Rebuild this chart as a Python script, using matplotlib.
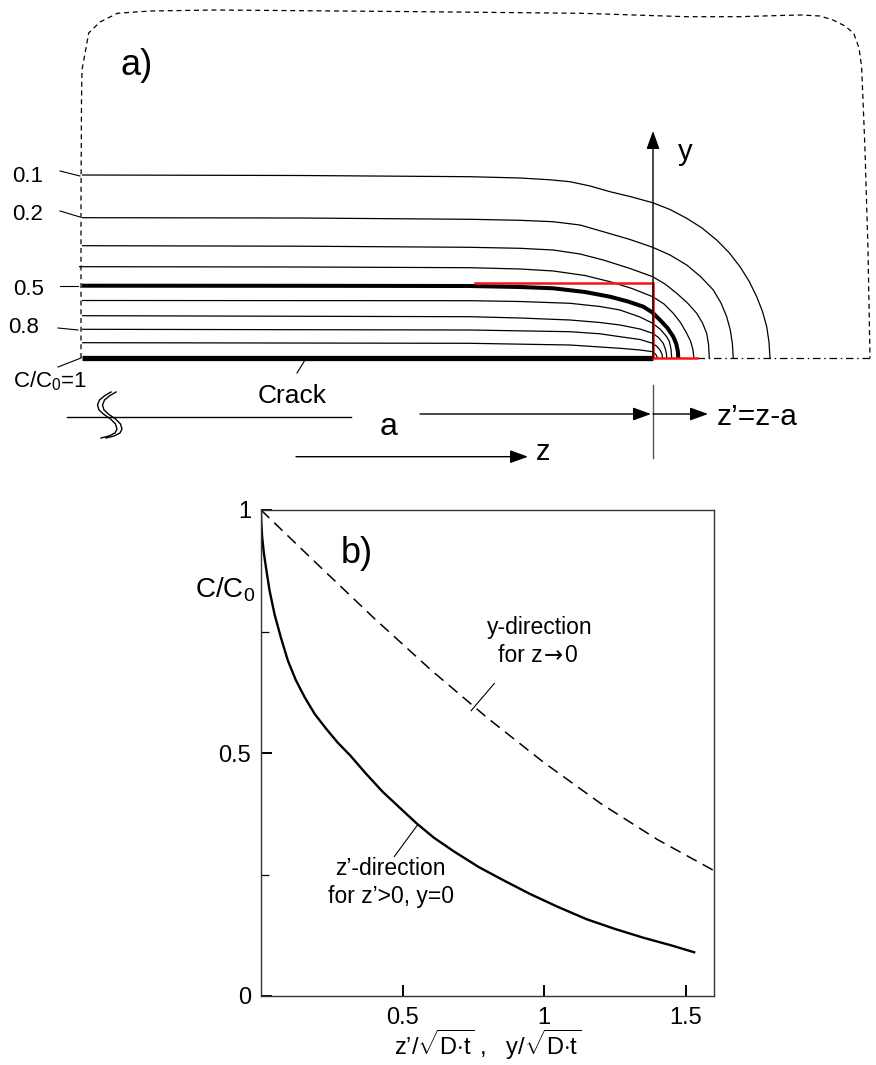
import matplotlib
matplotlib.use('Agg')
import matplotlib.pyplot as plt

plt.rcParams['font.family'] = ['Liberation Sans', 'DejaVu Sans']
plt.rcParams['mathtext.fontset'] = 'custom'
plt.rcParams['mathtext.rm'] = 'Liberation Sans'
plt.rcParams['mathtext.it'] = 'Liberation Sans'
plt.rcParams['mathtext.sf'] = 'Liberation Sans'
plt.rcParams['mathtext.bf'] = 'Liberation Sans:bold'

#%% Panel b) data, C/C0 versus normalised distance (read off the figure)
z_dir_x = [0.0, 0.001, 0.004, 0.010, 0.018, 0.030, 0.048, 0.070, 0.095, 0.123,
           0.154, 0.19, 0.23, 0.27, 0.315, 0.37, 0.43, 0.50, 0.55, 0.61,
           0.68, 0.77, 0.86, 0.95, 1.05, 1.15, 1.25, 1.35, 1.45, 1.53]
z_dir_c = [1.0, 0.975, 0.945, 0.912, 0.88, 0.835, 0.785, 0.738, 0.69, 0.65,
           0.615, 0.58, 0.55, 0.522, 0.495, 0.458, 0.42, 0.382, 0.355, 0.326,
           0.298, 0.265, 0.237, 0.21, 0.183, 0.158, 0.138, 0.12, 0.104, 0.09]
y_dir_x = [0.0, 0.2, 0.4, 0.6, 0.8, 1.0, 1.2, 1.4, 1.6]
y_dir_c = [1.0, 0.888, 0.777, 0.671, 0.572, 0.480, 0.396, 0.322, 0.258]

x_ticks = [0.5, 1, 1.5]
x_ticklabels = ['0.5', '1', '1.5']
y_ticks = [0, 0.5, 1]
y_ticklabels = ['0', '0.5', '1']

#%% Panel a) sketch, page pixel units (y downwards)
iso_levels = ['0.1', '0.2', '0.3', '0.4', '0.5', '0.6', '0.7', '0.8', '0.9']
iso_x = [
    [82, 300, 470, 520, 550, 570, 590, 610, 630, 652.7, 670, 686.7, 702, 716.7, 729, 740,
     749, 756.7, 762.5, 766.7, 769, 770],
    [82, 300, 470, 520, 553, 580, 603.3, 630, 652.7, 670, 686.7, 700.5, 713.3, 721,
     726.7, 730.3, 732.4, 733.3],
    [82, 300, 470, 520, 553.3, 580, 603.3, 630, 652.7, 665, 676.7, 687.5, 696.7, 702.5,
     706.7, 708.6, 709.3],
    [79, 300, 470, 520, 553.3, 585, 610, 632, 652.7, 664, 673.3, 680.8, 686.7, 690.5,
     692.8, 694],
    [82, 300, 470, 520, 553.3, 585, 610, 628, 643.3, 652.5, 660, 667.5, 673.3, 676.3,
     677.8, 678.3],
    [82, 470, 520, 570, 600, 620, 640, 652.7, 660.5, 666.7, 669.5, 671, 671.7],
    [82, 470, 520, 570, 600, 620, 640, 652.7, 658.5, 663.3, 665.5, 666.5, 666.7],
    [82, 470, 570, 600, 620, 640, 652.7, 657, 660, 661.9, 662.7],
    [82, 470, 570, 620, 640, 652.7, 655.7, 657.7],
]
iso_y = [
    [175, 175.5, 176.7, 178, 179.8, 181.7, 186, 191.7, 196.5, 202.7, 209.5, 218.3, 228, 240,
     252.5, 266.7, 281, 296.7, 311.5, 326.7, 342, 358.3],
    [217.7, 218, 219.3, 220.3, 221.7, 225, 231.7, 239.5, 247.3, 255, 265, 276.5, 290, 303,
     316.7, 330, 344, 358.3],
    [245.7, 246.2, 247.3, 248.3, 250, 254, 260, 268.5, 276.7, 284, 293.3, 303, 313.3, 323,
     333.3, 345, 358.3],
    [266.7, 267, 267.7, 269, 271, 275.5, 281.7, 288.5, 296.7, 304, 313.3, 323, 333.3, 341,
     349, 358.3],
    [285.7, 285.8, 286, 287, 288.3, 292, 296.7, 301.5, 306.7, 312.5, 320, 328, 336.7, 344,
     351, 358.3],
    [300.5, 300.7, 301.5, 303.3, 306.5, 310, 317, 323.3, 329.5, 336.7, 342, 349, 358.3],
    [315.7, 316.7, 318, 320, 322.5, 325, 329, 333.3, 337.5, 343.3, 349.5, 354, 358.3],
    [329.3, 330, 331.7, 333.8, 336.7, 339.5, 343.3, 346.5, 350, 354, 358.3],
    [342.7, 343.3, 345, 348.3, 350, 351.7, 354.2, 358.3],
]
crack_x = [82, 653]
crack_y = [358.3, 358.3]
red_x = [475, 652.7, 652.7, 696.7]
red_y = [283.3, 283.3, 358.3, 358.3]
sym_x = [697, 873]
sym_y = [358.3, 358.3]
border_x = [81, 81, 81.5, 82, 88.7, 100, 117.4, 150, 216.7, 400, 582, 686.7, 738.8, 780,
            801.5, 820, 833, 845, 853.7, 859, 861.6, 863, 865, 868, 870]
border_y = [358, 200, 100, 70, 33, 22, 13.3, 11, 10, 11.5, 13.3, 16.7, 16.7, 15.5,
            15, 16, 20, 26, 33.3, 48, 66.7, 100, 150, 250, 358]
wave_x = [111, 105, 99.5, 97.5, 99, 104, 110.5, 115.5, 117, 115, 109, 101]
wave_y = [392, 395.5, 400, 405, 410, 414.5, 419, 424, 429, 433, 436, 438]

# (label, text x, text baseline, leader from, leader to)
iso_labels = [('0.1', 12, 182, (60, 171), (80, 176)),
              ('0.2', 12, 220, (60, 211), (80, 217)),
              ('0.5', 13, 295, (60, 286), (78, 286)),
              ('0.8', 8, 333, (58, 328), (78, 330)),
              ('C/C$_0$=1', 13, 387, (58, 367), (81, 358))]

#%% Figure
fig = plt.figure(figsize=(8.76, 10.65), dpi=100)
ax_b = fig.add_axes([261/876, 69/1065, 453/876, 486/1065])
ax = fig.add_axes([0, 0, 1, 1])
ax.set_xlim(0, 876)
ax.set_ylim(1065, 0)
ax.axis('off')
ax.patch.set_visible(False)
ax.set_zorder(2)

# dashed outline of the specimen
ax.plot(border_x, border_y, color='k', lw=0.9, ls=(0, (4, 3)))
ax.plot(sym_x, sym_y, color='k', lw=0.9, ls=(0, (6, 3, 1.2, 3)))

# iso-concentration lines
for lev, xs, ys in zip(iso_levels, iso_x, iso_y):
    lw = 2.9 if lev == '0.5' else 0.9
    ax.plot(xs, ys, color='k', lw=lw, solid_capstyle='butt', solid_joinstyle='round')
ax.plot(crack_x, crack_y, color='k', lw=3.8, solid_capstyle='butt')
ax.plot(red_x, red_y, color='#ff1010', lw=1.8, solid_joinstyle='miter')

for txt, tx, ty, p0, p1 in iso_labels:
    ax.text(tx, ty, txt, fontsize=16, ha='left', va='baseline')
    ax.plot([p0[0], p1[0]], [p0[1], p1[1]], color='k', lw=0.8)

ax.text(120, 75, 'a)', fontsize=26, ha='left', va='baseline')
ax.text(258, 403, 'Crack', fontsize=19, ha='left', va='baseline')
ax.plot([297, 305], [373, 360], color='k', lw=0.8)


def arrow(x0, y0, x1, y1):
    ax.annotate('', xy=(x1, y1), xytext=(x0, y0),
                arrowprops=dict(arrowstyle='-|>,head_length=0.55,head_width=0.2',
                                mutation_scale=20, lw=1.0, color='k',
                                shrinkA=0, shrinkB=0))


# y axis
arrow(653, 358, 653, 131)
ax.text(678, 160, 'y', fontsize=21, ha='left', va='baseline')

# dimension lines below the crack
ax.plot([653, 653], [385, 458], color='#555555', lw=1.0)
ax.plot([67, 351], [417, 417], color='k', lw=1.0)
ax.plot(wave_x, wave_y, color='k', lw=1.0)
ax.plot([x + 5 for x in wave_x], wave_y, color='k', lw=1.0)
arrow(420, 414, 651, 414)
ax.text(380, 435, 'a', fontsize=23, ha='left', va='baseline')
arrow(653, 414, 708, 414)
ax.text(717, 425, 'z\u2019=z-a', fontsize=21.5, ha='left', va='baseline')
arrow(296, 456.7, 528, 456.7)
ax.text(536, 460, 'z', fontsize=21, ha='left', va='baseline')

#%% Panel b)
ax_b.plot(y_dir_x, y_dir_c, color='k', lw=1.1, ls=(0, (7.5, 4.5)))
ax_b.plot(z_dir_x, z_dir_c, color='k', lw=1.7, solid_joinstyle='round')
ax_b.set_xlim(0, 1.6)
ax_b.set_ylim(0, 1)
ax_b.set_xticks(x_ticks)
ax_b.set_xticklabels(x_ticklabels)
ax_b.set_yticks(y_ticks)
ax_b.set_yticklabels(y_ticklabels)
ax_b.set_yticks([0.25, 0.75], minor=True)
ax_b.tick_params(which='major', direction='in', length=8, width=1.4, labelsize=17)
ax_b.tick_params(which='minor', direction='in', length=5.5, width=0.9)
ax_b.tick_params(axis='x', pad=8)
ax_b.tick_params(axis='y', pad=7)
for sp in ax_b.spines.values():
    sp.set_color('#333333')
    sp.set_linewidth(1.0)

ax_b.set_xlabel('z\u2019/$\\sqrt{\\mathrm{D{\\cdot}t}}$ ,   y/$\\sqrt{\\mathrm{D{\\cdot}t}}$',
                fontsize=17, labelpad=-1)
ax_b.text(-0.02, 0.819, 'C/C$_0$', fontsize=20, ha='right', va='baseline')
ax_b.text(0.281, 0.891, 'b)', fontsize=26, ha='left', va='baseline')

ax_b.text(0.984, 0.745, 'y-direction', fontsize=16.5, ha='center', va='baseline')
ax_b.text(0.9955, 0.687, 'for z', fontsize=16.5, ha='right', va='baseline')
ax_b.text(0.9972, 0.687, '\u2192', fontsize=16.5, ha='left', va='baseline',
          family=['DejaVu Sans'])
ax_b.text(1.0695, 0.687, '0', fontsize=16.5, ha='left', va='baseline')
ax_b.plot([0.824, 0.742], [0.643, 0.587], color='k', lw=0.8)

ax_b.text(0.456, 0.249, 'z\u2019-direction', fontsize=16.5, ha='center', va='baseline')
ax_b.text(0.458, 0.192, 'for z\u2019>0, y=0', fontsize=16.5, ha='center', va='baseline')
ax_b.plot([0.553, 0.471], [0.352, 0.287], color='k', lw=0.8)

fig.savefig('out.png', dpi=100)
